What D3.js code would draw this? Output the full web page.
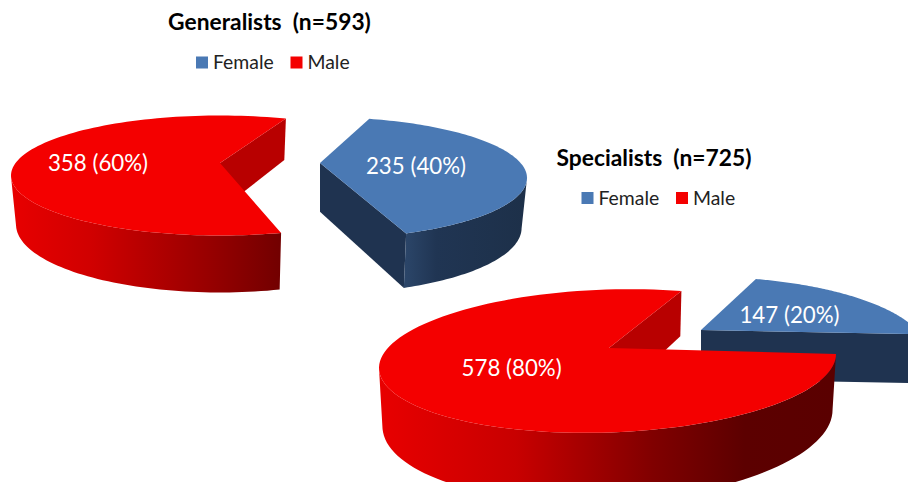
<!DOCTYPE html>
<html><head><meta charset="utf-8">
<script src="https://cdn.jsdelivr.net/npm/d3@7"></script>
<style>html,body{margin:0;padding:0;background:#fff}svg{display:block}text{font-family:Lato,"Open Sans",sans-serif;white-space:pre}</style>
</head><body><svg id="c" width="908" height="482"></svg>
<script>
const categories = ["Female","Male"];
const generalistValues = [235,358];
const specialistValues = [147,578];
const generalistShares = [40,60];
const specialistShares = [20,80];
const titles = ["Generalists  (n=593)","Specialists  (n=725)"];

const topColor = d3.scaleOrdinal(categories,["#4a79b4","#f40000"]);
const cutColor = d3.scaleOrdinal(categories,["#1f3350","#b80000"]);
const rimStops = {
  Female:[[0,"#2b4568"],[0.25,"#203553"],[1,"#1d3049"]],
  Male:[[0,"#e80000"],[0.3,"#d00000"],[0.75,"#950000"],[1,"#720000"]]
};
const rimStopsS = [[0,"#e80000"],[0.3,"#c80000"],[0.6,"#800000"],[0.8,"#5c0000"],[1,"#5a0000"]];

const rad = d=>d*Math.PI/180;
const svg = d3.select("#c");
const defs = svg.append("defs");
const line = d3.line();

const pies = [
 {id:"g",values:generalistValues,shares:generalistShares,title:titles[0],
  titleX:269.5,titleY:22,legX:196,legY:62.5,rot:18,
  slices:{
   Female:{cx:319,cy:178,rx:208,ry:61,tilt:0,apex:[320,163],t0:14,warp:0.99,depth:50,depthV:5,shrink:0.026,lab:[416,166]},
   Male:{cx:220,cy:175.5,rx:209,ry:60,tilt:0,apex:[220,163],t0:163,warp:0.991,depth:49,depthV:8,shrink:0.024,lab:[98,163]}
  }},
 {id:"s",values:specialistValues,shares:specialistShares,title:titles[1],
  titleX:654,titleY:158,legX:581.5,legY:198,rot:18,
  slices:{
   Female:{cx:701,cy:353.7,rx:227,ry:77,tilt:0,apex:[701,330],t0:14,warp:0.84,depth:49,depthV:0,shrink:0.01,lab:[789.5,315]},
   Male:{cx:607.5,cy:361,rx:228.5,ry:71.5,tilt:7,apex:[609,348],t0:90,warp:1.0065,depth:57,depthV:12,shrink:0.015,lab:[511.6,368]}
  }}
];

function topPt(s,tDeg){
  const u=Math.sin(rad(tDeg)), v=-Math.cos(rad(tDeg));
  return [s.cx+s.rx*u, s.cy+s.ry*v-s.tilt*u];
}
function lower(s,p){
  const v=(p[1]-s.cy)/s.ry;
  return [s.cx+(p[0]-s.cx)*(1-s.shrink), p[1]+s.depth+s.depthV*v];
}

pies.forEach(P=>{
  const arcs=d3.pie().sort(null).startAngle(rad(P.rot)).endAngle(rad(P.rot+360))(P.values);
  const g=svg.append("g");
  arcs.forEach((d,i)=>{
    const cat=categories[i], s=P.slices[cat];
    const span=(d.endAngle-d.startAngle)*180/Math.PI*s.warp;
    const t0=s.t0, t1=s.t0+span;
    const ts=d3.range(0,121).map(k=>t0+(t1-t0)*k/120);
    const rim=ts.map(t=>topPt(s,t));
    const gs=g.append("g");
    const e=rim[rim.length-1];
    gs.append("path").attr("d",line([s.apex,e,lower(s,e),lower(s,s.apex)])+"Z").attr("fill",cutColor(cat));
    const vis=ts.filter(t=>t>=90&&t<=270).map(t=>topPt(s,t));
    if(vis.length>1){
      const gid="rim-"+P.id+"-"+cat;
      const xs=vis.map(p=>p[0]);
      const lg=defs.append("linearGradient").attr("id",gid).attr("gradientUnits","userSpaceOnUse")
        .attr("x1",d3.min(xs)).attr("x2",d3.max(xs)).attr("y1",0).attr("y2",0);
      const stops=(P.id==="s"&&cat==="Male")?rimStopsS:rimStops[cat];
      stops.forEach(st=>lg.append("stop").attr("offset",st[0]).attr("stop-color",st[1]));
      gs.append("path").attr("d",line(vis.concat(vis.slice().reverse().map(p=>lower(s,p))))+"Z").attr("fill",`url(#${gid})`);
    }
    gs.append("path").attr("d",line([s.apex].concat(rim))+"Z").attr("fill",topColor(cat));
    gs.append("text").attr("x",s.lab[0]).attr("y",s.lab[1]).attr("dy","0.35em").attr("text-anchor","middle")
      .attr("font-size",22.3).attr("fill","#fff").text(`${d.data} (${P.shares[i]}%)`);
  });
  svg.append("text").attr("x",P.titleX).attr("y",P.titleY).attr("dy","0.35em").attr("text-anchor","middle")
    .attr("font-size",22.8).attr("font-weight",700).attr("fill","#000").text(P.title);
  const leg=svg.append("g");
  const offs=d3.scaleOrdinal(categories,[0,94.5]);
  categories.forEach(c=>{
    leg.append("rect").attr("x",P.legX+offs(c)).attr("y",P.legY-6).attr("width",12).attr("height",12).attr("fill",topColor(c));
    leg.append("text").attr("x",P.legX+offs(c)+17).attr("y",P.legY).attr("dy","0.35em").attr("font-size",19.4).attr("fill","#222").text(c);
  });
});
</script></body></html>
